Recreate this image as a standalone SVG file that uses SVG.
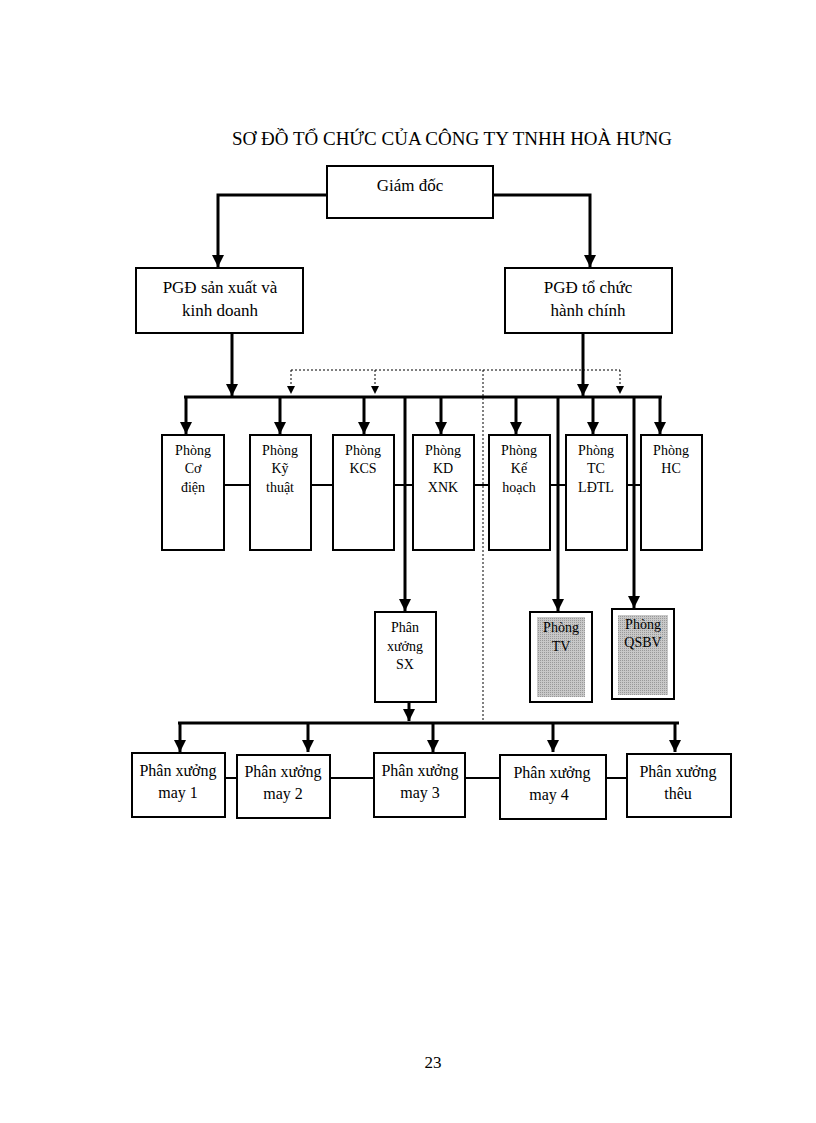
<svg xmlns="http://www.w3.org/2000/svg" width="816" height="1123" viewBox="0 0 816 1123">
<defs>
<marker id="a" markerWidth="12" markerHeight="12" refX="12" refY="6" orient="auto" markerUnits="userSpaceOnUse" viewBox="0 0 12 12"><path d="M0,0 L12,6 L0,12 Z" fill="#000"/></marker>
<marker id="d" markerWidth="8" markerHeight="8" refX="4" refY="8" markerUnits="userSpaceOnUse" viewBox="0 0 8 8"><path d="M0,0 L8,0 L4,8 Z" fill="#000"/></marker>
<pattern id="g" width="2" height="2" patternUnits="userSpaceOnUse"><rect width="2" height="2" fill="#c8c8c8"/><rect width="1" height="1" fill="#999"/></pattern>
</defs>
<style>
text{font-family:"Liberation Serif","Times New Roman",serif;fill:#000;text-anchor:middle}
.b{fill:#fff;stroke:#000;stroke-width:2}
.t{font-size:17px}.s{font-size:14px}.m{font-size:16px}
.c{fill:none;stroke:#000;stroke-width:3}
.l{fill:none;stroke:#000;stroke-width:2}
.dt{fill:none;stroke:#000;stroke-width:1;stroke-dasharray:2,2}
</style>
<rect width="816" height="1123" fill="#fff"/>
<text x="452" y="145" style="font-size:19px">SƠ ĐỒ TỔ CHỨC CỦA CÔNG TY TNHH HOÀ HƯNG</text>
<g id="connectors">
<path class="c" d="M327,195 H218 V267" marker-end="url(#a)"/>
<path class="c" d="M493,195 H590 V267" marker-end="url(#a)"/>
<path class="c" d="M232,333 V396" marker-end="url(#a)"/>
<path class="c" d="M583,333 V396" marker-end="url(#a)"/>
<path class="dt" d="M291,370 H620 M483,370 V722"/>
<path class="dt" d="M291,370 V394" marker-end="url(#d)"/>
<path class="dt" d="M375,370 V394" marker-end="url(#d)"/>
<path class="dt" d="M620,370 V394" marker-end="url(#d)"/>
<path class="c" d="M184,397 H662"/>
<path class="c" d="M186,397 V434" marker-end="url(#a)"/>
<path class="c" d="M280,397 V434" marker-end="url(#a)"/>
<path class="c" d="M364,397 V434" marker-end="url(#a)"/>
<path class="c" d="M441,397 V434" marker-end="url(#a)"/>
<path class="c" d="M516,397 V434" marker-end="url(#a)"/>
<path class="c" d="M593,397 V434" marker-end="url(#a)"/>
<path class="c" d="M660,397 V434" marker-end="url(#a)"/>
<path class="l" d="M224,485 H250 M311,485 H333 M394,485 H413 M474,485 H489 M550,485 H566 M627,485 H641"/>
<path class="c" d="M405,397 V611" marker-end="url(#a)"/>
<path class="c" d="M558,397 V611" marker-end="url(#a)"/>
<path class="c" d="M634,397 V608" marker-end="url(#a)"/>
<path class="c" d="M409,702 V721" marker-end="url(#a)"/>
<path class="c" d="M178,723 H679"/>
<path class="c" d="M180,723 V752" marker-end="url(#a)"/>
<path class="c" d="M308,723 V752" marker-end="url(#a)"/>
<path class="c" d="M433,723 V752" marker-end="url(#a)"/>
<path class="c" d="M553,723 V752" marker-end="url(#a)"/>
<path class="c" d="M675,723 V752" marker-end="url(#a)"/>
<path class="l" d="M225,778 H237 M330,778 H374 M465,778 H500 M606,778 H627"/>
</g>
<g id="gd"><rect class="b" x="327" y="166" width="166" height="52"/><text x="410" y="191" class="t">Giám đốc</text></g>
<g id="pgd1"><rect class="b" x="136" y="268" width="167" height="65"/><text x="220" y="293" class="t">PGĐ sản xuất và</text><text x="220" y="316" class="t">kinh doanh</text></g>
<g id="pgd2"><rect class="b" x="505" y="268" width="167" height="65"/><text x="588" y="293" class="t">PGĐ tổ chức</text><text x="588" y="316" class="t">hành chính</text></g>
<g id="p1"><rect class="b" x="162" y="435" width="62" height="115"/><text x="193" y="455" class="s">Phòng</text><text x="193" y="473" class="s">Cơ</text><text x="193" y="492" class="s">điện</text></g>
<g id="p2"><rect class="b" x="250" y="435" width="61" height="115"/><text x="280" y="455" class="s">Phòng</text><text x="280" y="473" class="s">Kỹ</text><text x="280" y="492" class="s">thuật</text></g>
<g id="p3"><rect class="b" x="333" y="435" width="61" height="115"/><text x="363" y="455" class="s">Phòng</text><text x="363" y="473" class="s">KCS</text></g>
<g id="p4"><rect class="b" x="413" y="435" width="61" height="115"/><text x="443" y="455" class="s">Phòng</text><text x="443" y="473" class="s">KD</text><text x="443" y="492" class="s">XNK</text></g>
<g id="p5"><rect class="b" x="489" y="435" width="61" height="115"/><text x="519" y="455" class="s">Phòng</text><text x="519" y="473" class="s">Kế</text><text x="519" y="492" class="s">hoạch</text></g>
<g id="p6"><rect class="b" x="566" y="435" width="61" height="115"/><text x="596" y="455" class="s">Phòng</text><text x="596" y="473" class="s">TC</text><text x="596" y="492" class="s">LĐTL</text></g>
<g id="p7"><rect class="b" x="641" y="435" width="61" height="115"/><text x="671" y="455" class="s">Phòng</text><text x="671" y="473" class="s">HC</text></g>
<g id="pxsx"><rect class="b" x="375" y="612" width="61" height="90"/><text x="405" y="632" class="s">Phân</text><text x="405" y="651" class="s">xưởng</text><text x="405" y="669" class="s">SX</text></g>
<g id="tv"><rect class="b" x="530" y="612" width="62" height="90"/><rect x="537" y="617" width="48" height="80" fill="url(#g)"/><text x="561" y="632" class="s">Phòng</text><text x="561" y="651" class="s">TV</text></g>
<g id="qsbv"><rect class="b" x="612" y="609" width="62" height="90"/><rect x="618" y="615" width="50" height="80" fill="url(#g)"/><text x="643" y="629" class="s">Phòng</text><text x="643" y="647" class="s">QSBV</text></g>
<g id="m1"><rect class="b" x="132" y="753" width="93" height="64"/><text x="178" y="776" class="m">Phân xưởng</text><text x="178" y="798" class="m">may 1</text></g>
<g id="m2"><rect class="b" x="237" y="755" width="93" height="63"/><text x="283" y="777" class="m">Phân xưởng</text><text x="283" y="799" class="m">may 2</text></g>
<g id="m3"><rect class="b" x="374" y="753" width="91" height="64"/><text x="420" y="776" class="m">Phân xưởng</text><text x="420" y="798" class="m">may 3</text></g>
<g id="m4"><rect class="b" x="500" y="755" width="106" height="64"/><text x="552" y="778" class="m">Phân xưởng</text><text x="549" y="800" class="m">may 4</text></g>
<g id="theu"><rect class="b" x="627" y="754" width="104" height="63"/><text x="678" y="777" class="m">Phân xưởng</text><text x="678" y="799" class="m">thêu</text></g>
<text x="433" y="1068" class="t">23</text>
</svg>
